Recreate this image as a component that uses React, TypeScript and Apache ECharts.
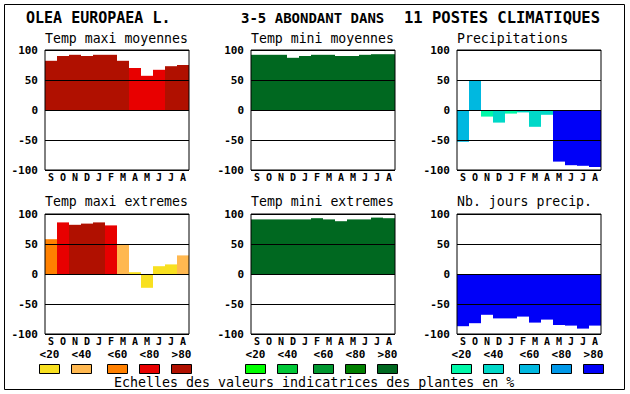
import React, { useEffect, useRef } from 'react';
import * as echarts from 'echarts';

const MONTHS = ['S', 'O', 'N', 'D', 'J', 'F', 'M', 'A', 'M', 'J', 'J', 'A'];
const LEGEND_LABELS = ['<20', '<40', '<60', '<80', '>80'];

const RED_SCALE = ['#F8E020', '#FFB850', '#FF8000', '#E80000', '#B01000'];
const GREEN_SCALE = ['#00FF00', '#00C838', '#009830', '#008000', '#006820'];
const BLUE_SCALE = ['#00F8A8', '#00D8C8', '#00B8E0', '#0098E8', '#0000F8'];

const TITLE_LEFT = 'OLEA EUROPAEA L.';
const TITLE_MID = '3-5 ABONDANT DANS';
const TITLE_RIGHT = '11 POSTES CLIMATIQUES';
const FOOTER = 'Echelles des valeurs indicatrices des plantes en %';

const PANEL_TITLES = [
  'Temp maxi moyennes',
  'Temp mini moyennes',
  'Precipitations',
  'Temp maxi extremes',
  'Temp mini extremes',
  'Nb. jours precip.',
];

const tmaxMoy = [82, 90, 92, 90, 92, 92, 82, 70, 57, 67, 73, 75];
const tmaxMoyClass = [4, 4, 4, 4, 4, 4, 4, 3, 3, 3, 4, 4];

const tminMoy = [92, 92, 92, 87, 90, 92, 92, 90, 90, 92, 93, 93];
const tminMoyClass = [4, 4, 4, 4, 4, 4, 4, 4, 4, 4, 4, 4];

const precip = [-53, 49, -11, -21, -6, -4, -28, -8, -86, -92, -93, -95];
const precipClass = [2, 2, 0, 1, 0, 1, 1, 1, 4, 4, 4, 4];

const tmaxExt = [58, 86, 82, 84, 86, 81, 50, 3, -23, 13, 16, 31];
const tmaxExtClass = [2, 3, 4, 4, 4, 3, 1, 0, 0, 0, 0, 1];

const tminExt = [91, 91, 91, 91, 91, 93, 91, 88, 91, 91, 94, 93];
const tminExtClass = [4, 4, 4, 4, 4, 4, 4, 4, 4, 4, 4, 4];

const nbJours = [-87, -82, -68, -74, -74, -71, -81, -76, -85, -86, -91, -86];
const nbJoursClass = [4, 4, 4, 4, 4, 4, 4, 4, 4, 4, 4, 4];

const FONT = 'DejaVu Sans Mono';

export default function App() {
  const ref = useRef<HTMLDivElement>(null);
  useEffect(() => {
    document.body.style.margin = '0';
    const chart = echarts.init(ref.current!, null, { renderer: 'svg', width: 630, height: 394 });

    const panels = [
      { values: tmaxMoy, classes: tmaxMoyClass, scale: RED_SCALE },
      { values: tminMoy, classes: tminMoyClass, scale: GREEN_SCALE },
      { values: precip, classes: precipClass, scale: BLUE_SCALE },
      { values: tmaxExt, classes: tmaxExtClass, scale: RED_SCALE },
      { values: tminExt, classes: tminExtClass, scale: GREEN_SCALE },
      { values: nbJours, classes: nbJoursClass, scale: BLUE_SCALE },
    ];
    const lefts = [45, 251, 457];
    const tops = [50, 214];
    const W = 144;
    const H = 120;

    const grids: any[] = [];
    const xAxes: any[] = [];
    const yAxes: any[] = [];
    const series: any[] = [];
    const graphics: any[] = [];

    panels.forEach((p, i) => {
      const col = i % 3;
      const row = Math.floor(i / 3);
      grids.push({
        left: lefts[col], top: tops[row], width: W, height: H,
        show: true, borderColor: '#000', borderWidth: 1, backgroundColor: 'transparent', z: 10,
      });
      xAxes.push({
        type: 'category', gridIndex: i, data: MONTHS,
        axisLine: { show: false }, axisTick: { show: false },
        axisLabel: { interval: 0, margin: 2, color: '#000', fontFamily: FONT, fontWeight: 'bold', fontSize: 10, lineHeight: 10 },
        splitLine: { show: false },
      });
      yAxes.push({
        type: 'value', gridIndex: i, min: -100, max: 100, interval: 50, z: 5,
        axisLine: { show: false }, axisTick: { show: false },
        axisLabel: { margin: 7, color: '#000', fontFamily: FONT, fontWeight: 'bold', fontSize: 11 },
        splitLine: { show: true, lineStyle: { color: '#000', width: 1 } },
      });
      series.push({
        type: 'bar', xAxisIndex: i, yAxisIndex: i,
        barWidth: '100%', barCategoryGap: '0%',
        data: p.values.map((v, k) => ({ value: v, itemStyle: { color: p.scale[p.classes[k]] } })),
        z: 2,
      });
      graphics.push({
        type: 'text', x: lefts[col], y: row === 0 ? 38 : 201,
        style: { text: PANEL_TITLES[i], fill: '#000', font: `13.2px "${FONT}"`, textVerticalAlign: 'middle' },
      });
    });

    // legends
    const boxOffsets = [0, 32, 68, 100, 132];
    const scales = [RED_SCALE, GREEN_SCALE, BLUE_SCALE];
    scales.forEach((sc, g) => {
      const base = 39 + g * 206;
      boxOffsets.forEach((off, k) => {
        const x = base + off;
        graphics.push({
          type: 'rect', shape: { x: x + 0.5, y: 364.5, width: 20, height: 9 },
          style: { fill: sc[k], stroke: '#000', lineWidth: 1 },
        });
        graphics.push({
          type: 'text', x: x + 10.5, y: 354.5,
          style: {
            text: LEGEND_LABELS[k], fill: '#000', font: `bold 11px "${FONT}"`,
            textAlign: 'center', textVerticalAlign: 'middle', lineHeight: 10,
          },
        });
      });
    });

    graphics.push({
      type: 'text', x: 114, y: 382,
      style: { text: FOOTER, fill: '#000', font: `13.3px "${FONT}"`, textVerticalAlign: 'middle' },
    });
    graphics.push({
      type: 'text', x: 26, y: 18,
      style: { text: TITLE_LEFT, fill: '#000', font: `bold 15px "${FONT}"`, textVerticalAlign: 'middle' },
    });
    graphics.push({
      type: 'text', x: 241, y: 18,
      style: { text: TITLE_MID, fill: '#000', font: `bold 14px "${FONT}"`, textVerticalAlign: 'middle' },
    });
    graphics.push({
      type: 'text', x: 404, y: 18,
      style: { text: TITLE_RIGHT, fill: '#000', font: `bold 15.5px "${FONT}"`, textVerticalAlign: 'middle' },
    });
    graphics.push({
      type: 'rect', shape: { x: 4.5, y: 4.5, width: 620, height: 385 },
      style: { fill: 'none', stroke: '#000', lineWidth: 1 },
    });

    chart.setOption({
      animation: false,
      backgroundColor: '#fff',
      grid: grids,
      xAxis: xAxes,
      yAxis: yAxes,
      series,
      graphic: { elements: graphics },
    });
    return () => chart.dispose();
  }, []);
  return <div ref={ref} style={{ width: 630, height: 394, position: 'absolute', left: 0, top: 0 }} />;
}
